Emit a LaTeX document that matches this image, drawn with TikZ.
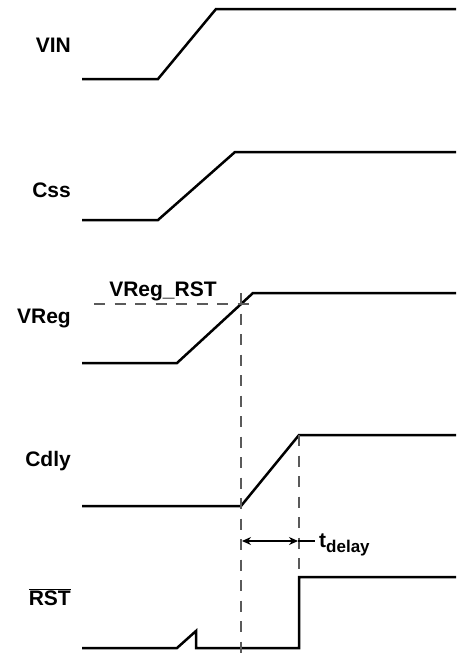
\documentclass[tikz,border=0pt]{standalone}
\usepackage{fontspec}
\setmainfont{Liberation Sans}
\usepackage{tikz}
\usetikzlibrary{arrows.meta,positioning,calc}
\definecolor{guidegray}{HTML}{5A5A5A}

\begin{document}
\begin{tikzpicture}[x=1pt,y=-1pt,
  wave/.style={line width=2.5pt,line join=miter,black},
  guide/.style={line width=1.8pt,guidegray,dash pattern=on 11pt off 9.5pt},
  dim/.style={line width=1.3pt,black},
  lbl/.style={anchor=base east,inner sep=0pt,font=\fontsize{21}{25}\selectfont\bfseries}]
  \useasboundingbox (0,0) rectangle (456,662);
  % signal names
  \foreach \nm/\txt/\yb in {vin/VIN/52,css/Css/197,vreg/VReg/323,cdly/Cdly/466,
                            rst/{$\overline{\hbox{RST}}$}/605}{
     \node[lbl] (\nm) at (71,\yb) {\txt};}
  % waveforms
  \draw[wave] (82,79) -- (158,79) -- (216,9) -- (456,9);
  \draw[wave] (82,220) -- (158,220) -- (235,152) -- (456,152);
  \draw[wave] (82,363) -- (177,363) -- (253,293) -- (456,293);
  \draw[wave] (82,506) -- (241,506) coordinate (cdlo) -- (299,435) coordinate (cdhi) -- (456,435);
  \draw[wave] (82,648) -- (177,648) -- (196,631) -- (196,648) -- (299,648)
              -- (299,577) coordinate (rsthi) -- (456,577);
  % threshold and timing guides
  \coordinate (thrL) at (94,304);
  \coordinate (thrR) at (255,304);
  \coordinate (thrT) at (241,293);
  \coordinate (thrB) at (241,662);
  \draw[guide] (thrL) -- (thrR);
  \draw[guide] (thrT) -- (thrB);
  \draw[guide] (cdhi) -- (rsthi);
  \node[anchor=base,inner sep=0pt,font=\fontsize{21}{25}\selectfont\bfseries]
     (thrlbl) at (163,296) {VReg\_RST};
  % delay
  \coordinate (dlyA) at (242,541);
  \coordinate (dlyB) at (298,541);
  \coordinate (dlyC) at (315,541);
  \draw[dim,{Stealth[length=9pt,width=8pt]}-{Stealth[length=9pt,width=8pt]}] (dlyA) -- (dlyB);
  \draw[dim] (dlyB) -- (dlyC);
  \node[anchor=base west,inner sep=0pt,font=\fontsize{21}{25}\selectfont\bfseries]
     (tdly) at (319,547) {t\raisebox{-5pt}{\fontsize{17}{20}\selectfont delay}};
\end{tikzpicture}
\end{document}
